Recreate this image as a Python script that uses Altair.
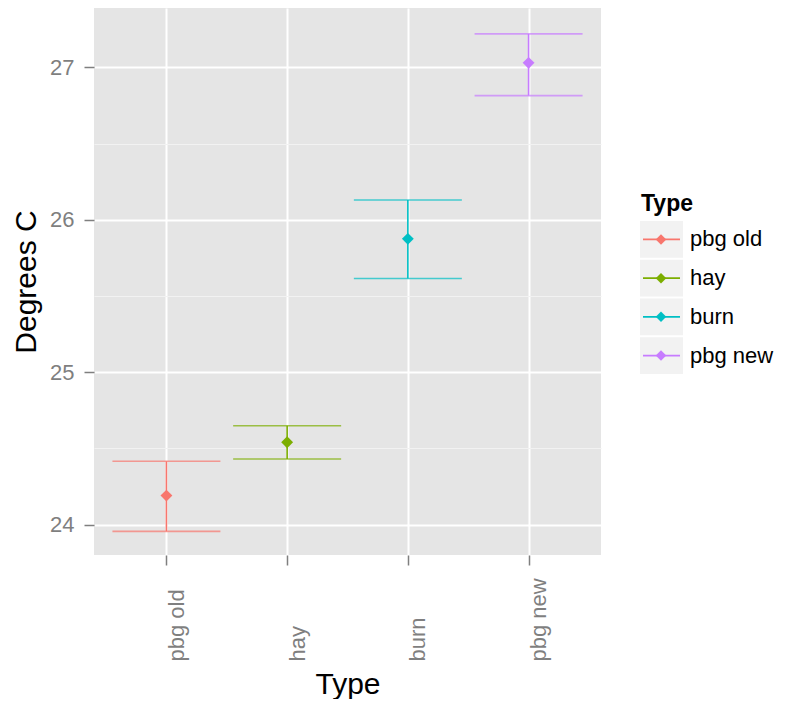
import altair as alt
import pandas as pd

types = ["pbg old", "hay", "burn", "pbg new"]
means = [24.19, 24.54, 25.875, 27.03]
lower = [23.955, 24.43, 25.615, 26.815]
upper = [24.415, 24.648, 26.13, 27.22]
colors = ["#F8766D", "#7CAE00", "#00BFC4", "#C77CFF"]
y_ticks = [24, 24.5, 25, 25.5, 26, 26.5, 27]
legend_title = ["Type"]

df = pd.DataFrame({"Type": types, "mean": means, "lower": lower, "upper": upper})

FONT = "Liberation Sans"
GREY = "#7F7F7F"

color = alt.Color("Type:N", scale=alt.Scale(domain=types, range=colors), legend=None)

x_enc = alt.X(
    "Type:N",
    sort=types,
    scale=alt.Scale(type="point", padding=0.6),
    axis=alt.Axis(
        title="Type",
        titleFontSize=30,
        titleFont=FONT,
        titleFontWeight="normal",
        titleColor="black",
        titlePadding=8,
        labelAngle=-90,
        labelAlign="left",
        labelBaseline="top",
        labelPadding=96,
        labelFontSize=22,
        labelFont=FONT,
        labelColor=GREY,
        tickColor=GREY,
        tickSize=10,
        tickWidth=1.5,
        domain=False,
        grid=True,
        gridColor="white",
        gridWidth=2,
    ),
)

y_scale = alt.Scale(domain=[23.8, 27.39], nice=False, zero=False)
y_axis = alt.Axis(
    title="Degrees C",
    titleFontSize=30,
    titleFont=FONT,
    titleFontWeight="normal",
    titleColor="black",
    titlePadding=8,
    values=y_ticks,
    labelExpr="datum.value % 1 === 0 ? format(datum.value, 'd') : ''",
    labelFontSize=22,
    labelFont=FONT,
    labelColor=GREY,
    labelPadding=10,
    tickColor=GREY,
    tickSize=10,
    tickWidth=1.5,
    tickOpacity={"condition": {"test": "datum.value % 1 !== 0", "value": 0}, "value": 1},
    domain=False,
    grid=True,
    gridColor={"condition": {"test": "datum.value % 1 !== 0", "value": "#F2F2F2"}, "value": "white"},
    gridWidth={"condition": {"test": "datum.value % 1 !== 0", "value": 1}, "value": 2},
)

base = alt.Chart(df)

bars = base.mark_rule(strokeWidth=1.6).encode(
    x=x_enc,
    y=alt.Y("lower:Q", scale=y_scale, axis=y_axis),
    y2="upper:Q",
    color=color,
)
cap_hi = base.mark_tick(thickness=1.6, size=108, orient="horizontal").encode(
    x=alt.X("Type:N", sort=types), y="upper:Q", color=color
)
cap_lo = base.mark_tick(thickness=1.6, size=108, orient="horizontal").encode(
    x=alt.X("Type:N", sort=types), y="lower:Q", color=color
)
pts = base.mark_point(shape="diamond", filled=True, size=140, opacity=1).encode(
    x=alt.X("Type:N", sort=types), y="mean:Q", color=color
)
main = alt.layer(bars, cap_hi, cap_lo, pts)

# manual legend
leg_scale = alt.Scale(range=[213, 366], paddingInner=0.05, paddingOuter=0)
ly = alt.Y("Type:N", sort=types, scale=leg_scale, axis=None, bandPosition=0.5)
ly_rect = alt.Y("Type:N", sort=types, scale=leg_scale, axis=None)
leg_bg = base.mark_rect(color="#F2F2F2").encode(
    x=alt.value(546), x2=alt.value(589), y=ly_rect
)
leg_line = base.mark_rule(strokeWidth=1.6).encode(
    x=alt.value(549), x2=alt.value(586), y=ly, color=color
)
leg_pt = base.mark_point(shape="diamond", filled=True, size=110, opacity=1).encode(
    x=alt.value(567), y=ly, color=color
)
leg_txt = base.mark_text(align="left", baseline="middle", fontSize=22, font=FONT, color="black").encode(
    x=alt.value(596), y=ly, text="Type:N"
)
leg_title = alt.Chart(pd.DataFrame({"t": legend_title})).mark_text(
    align="left", baseline="alphabetic", fontSize=23, font=FONT, fontWeight="bold", color="black"
).encode(x=alt.value(547), y=alt.value(203), text="t:N")

legend = alt.layer(leg_bg, leg_line, leg_pt, leg_txt)

chart = (
    alt.layer(main, legend, leg_title)
    .resolve_scale(y="independent")
    .properties(
        width=507,
        height=547,
        padding={"left": 3, "top": 0, "right": 0, "bottom": 0},
    )
    .configure(background="white")
    .configure_view(fill="#E5E5E5", strokeWidth=0)
)

chart.save("out.html", embed_options={"renderer": "svg", "actions": False})
